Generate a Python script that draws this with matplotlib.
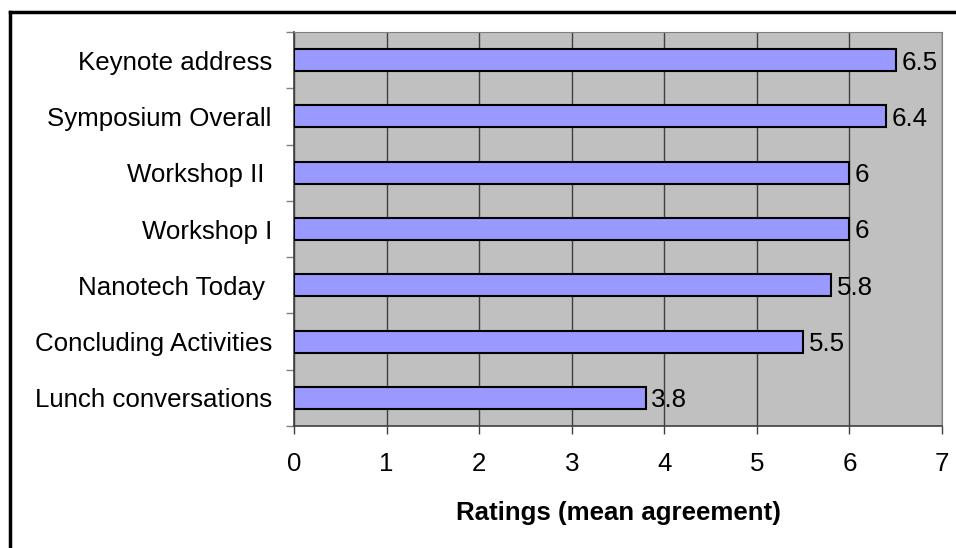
import matplotlib
matplotlib.use('Agg')
import matplotlib.pyplot as plt
from matplotlib.lines import Line2D

plt.rcParams['font.family'] = ['Liberation Sans', 'DejaVu Sans']

# session ratings, listed top to bottom
sessions = ['Keynote address', 'Symposium Overall', 'Workshop II ', 'Workshop I',
            'Nanotech Today ', 'Concluding Activities', 'Lunch conversations']
ratings = [6.5, 6.4, 6, 6, 5.8, 5.5, 3.8]
x_ticks = [0, 1, 2, 3, 4, 5, 6, 7]

fs = 18.6
fig = plt.figure(figsize=(9.56, 5.48), dpi=100)
ax = fig.add_axes([294/956, 1 - 426/548, 648/956, 394/548])
ax.set_facecolor('#c0c0c0')

pos = list(range(len(sessions)))
ax.barh(pos, ratings, height=0.39, color='#9999ff', edgecolor='black',
        linewidth=1.5, zorder=3)
for p, v in zip(pos, ratings):
    ax.annotate(f'{v:g}', (v, p), xytext=(4, 0), textcoords='offset points',
                va='center_baseline', ha='left', fontsize=fs, zorder=4)

ax.set_xlim(0, 7)
ax.set_ylim(len(sessions) - 0.5, -0.5)
ax.set_xticks(x_ticks)
ax.set_xticklabels([str(t) for t in x_ticks], fontsize=fs)
ax.tick_params(axis='x', length=6, width=1, color='#404040', pad=13)

# category labels sit between the tick marks
ax.set_yticks(pos)
ax.set_yticklabels(sessions, fontsize=fs)
ax.tick_params(axis='y', which='major', length=0, pad=16)
ax.set_yticks([p - 0.5 for p in pos] + [len(sessions) - 0.5], minor=True)
ax.tick_params(axis='y', which='minor', length=6, width=1, color='#808080')

ax.grid(axis='x', color='#404040', lw=1, zorder=1)
ax.set_axisbelow(True)
for s in ['top', 'right']:
    ax.spines[s].set_color('#808080')
for s in ['left', 'bottom']:
    ax.spines[s].set_color('#404040')
    ax.spines[s].set_linewidth(1.2)

ax.set_xlabel('Ratings (mean agreement)', fontsize=fs, fontweight='bold', labelpad=18)

# outer frame
fig.add_artist(Line2D([10/956, 10/956], [0, 1 - 12/548], color='black', lw=2.5,
                      transform=fig.transFigure))
fig.add_artist(Line2D([10/956, 1], [1 - 12/548, 1 - 12/548], color='black', lw=2.5,
                      transform=fig.transFigure))

fig.savefig('out.png', dpi=100)
